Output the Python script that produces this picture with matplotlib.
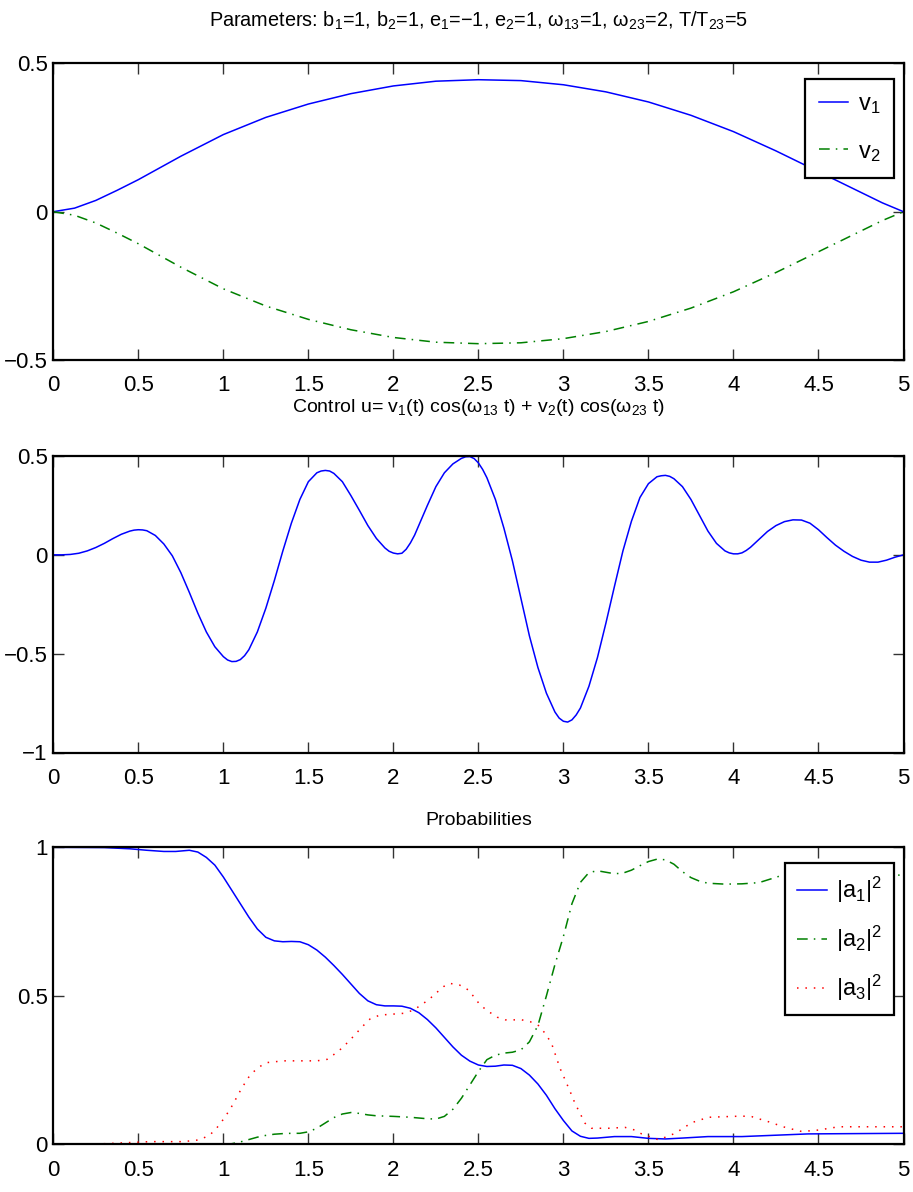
import matplotlib
matplotlib.use("Agg")
import matplotlib.pyplot as plt
from matplotlib import font_manager

# ---------------- data ----------------
t_v = [0, 0.125, 0.25, 0.375, 0.5, 0.75, 1.0, 1.25, 1.5, 1.75, 2.0, 2.25, 2.5, 2.75,
       3.0, 3.25, 3.5, 3.75, 4.0, 4.25, 4.5, 4.75, 4.875, 5.0]
v1 = [0, 0.012, 0.038, 0.072, 0.108, 0.187, 0.26, 0.318, 0.363, 0.398, 0.424, 0.44, 0.445,
      0.442, 0.428, 0.404, 0.37, 0.325, 0.27, 0.205, 0.135, 0.065, 0.03, 0.0]
v2 = [0, -0.012, -0.038, -0.072, -0.108, -0.187, -0.26, -0.318, -0.363, -0.398, -0.424,
      -0.44, -0.445, -0.442, -0.428, -0.404, -0.37, -0.325, -0.27, -0.205, -0.135, -0.065,
      -0.03, 0.0]

t_u = [0.0, 0.05, 0.1, 0.15, 0.2, 0.25, 0.3, 0.35, 0.4, 0.45, 0.475, 0.5, 0.525, 0.55,
       0.6, 0.65, 0.7, 0.75, 0.8, 0.85, 0.9, 0.95, 1.0, 1.025, 1.05, 1.075, 1.1, 1.125,
       1.15, 1.2, 1.25, 1.3, 1.35, 1.4, 1.45, 1.5, 1.55, 1.575, 1.6, 1.625, 1.65, 1.7,
       1.75, 1.8, 1.85, 1.9, 1.95, 1.975, 2.0, 2.025, 2.05, 2.075, 2.1, 2.125, 2.15, 2.2,
       2.25, 2.3, 2.35, 2.4, 2.425, 2.45, 2.475, 2.5, 2.525, 2.55, 2.6, 2.65, 2.7, 2.75,
       2.8, 2.85, 2.9, 2.95, 2.975, 3.0, 3.025, 3.05, 3.075, 3.1, 3.15, 3.2, 3.25, 3.3,
       3.35, 3.4, 3.45, 3.5, 3.55, 3.575, 3.6, 3.625, 3.65, 3.7, 3.75, 3.8, 3.85, 3.9,
       3.95, 3.975, 4.0, 4.025, 4.05, 4.075, 4.1, 4.15, 4.2, 4.25, 4.3, 4.35, 4.4, 4.45,
       4.5, 4.55, 4.6, 4.65, 4.7, 4.75, 4.8, 4.85, 4.9, 4.95, 5.0]
u = [0.0, 0.0, 0.002, 0.008, 0.02, 0.037, 0.058, 0.082, 0.104, 0.12, 0.125, 0.127, 0.126,
     0.122, 0.098, 0.055, -0.005, -0.09, -0.19, -0.295, -0.39, -0.465, -0.515, -0.532,
     -0.54, -0.539, -0.53, -0.51, -0.48, -0.39, -0.27, -0.13, 0.02, 0.16, 0.28, 0.37,
     0.415, 0.424, 0.427, 0.424, 0.412, 0.37, 0.3, 0.225, 0.148, 0.083, 0.035, 0.018,
     0.009, 0.005, 0.008, 0.028, 0.06, 0.1, 0.15, 0.25, 0.345, 0.415, 0.46, 0.488, 0.496,
     0.497, 0.487, 0.465, 0.432, 0.39, 0.28, 0.135, -0.03, -0.22, -0.41, -0.57, -0.70,
     -0.795, -0.826, -0.842, -0.846, -0.835, -0.81, -0.775, -0.665, -0.52, -0.345, -0.16,
     0.02, 0.17, 0.29, 0.36, 0.395, 0.4, 0.402, 0.397, 0.385, 0.345, 0.28, 0.2, 0.12,
     0.058, 0.02, 0.01, 0.005, 0.005, 0.01, 0.022, 0.038, 0.078, 0.118, 0.148, 0.168,
     0.177, 0.176, 0.16, 0.127, 0.087, 0.049, 0.018, -0.008, -0.027, -0.037, -0.037,
     -0.027, -0.012, 0.0]

t_a1 = [0, 0.3, 0.45, 0.55, 0.65, 0.72, 0.8, 0.85, 0.9, 0.95, 1.0, 1.05, 1.1, 1.15, 1.2,
        1.25, 1.3, 1.35, 1.4, 1.45, 1.5, 1.55, 1.6, 1.65, 1.7, 1.75, 1.8, 1.85, 1.9,
        1.95, 2.0, 2.05, 2.1, 2.15, 2.2, 2.25, 2.3, 2.35, 2.4, 2.45, 2.5, 2.55, 2.6,
        2.65, 2.7, 2.75, 2.8, 2.85, 2.9, 2.95, 3.0, 3.05, 3.1, 3.15, 3.2, 3.3, 3.4,
        3.5, 3.6, 3.7, 3.85, 4.05, 4.44, 5.0]
a1 = [1.0, 0.999, 0.995, 0.99, 0.986, 0.986, 0.99, 0.984, 0.966, 0.94, 0.9, 0.855, 0.81,
      0.765, 0.725, 0.697, 0.685, 0.682, 0.683, 0.682, 0.672, 0.654, 0.63, 0.602, 0.572,
      0.54, 0.508, 0.483, 0.47, 0.466, 0.466, 0.465, 0.458, 0.443, 0.42, 0.392, 0.36,
      0.328, 0.3, 0.28, 0.267, 0.262, 0.263, 0.267, 0.266, 0.255, 0.233, 0.203, 0.165,
      0.12, 0.08, 0.045, 0.027, 0.02, 0.021, 0.026, 0.026, 0.02, 0.018, 0.021, 0.026,
      0.026, 0.035, 0.037]

t_a2 = [0, 1.0, 1.05, 1.1, 1.15, 1.2, 1.25, 1.3, 1.35, 1.4, 1.45, 1.5, 1.55, 1.6, 1.65,
        1.7, 1.75, 1.8, 1.85, 1.9, 2.0, 2.1, 2.2, 2.25, 2.3, 2.35, 2.4, 2.45, 2.5, 2.55,
        2.6, 2.65, 2.7, 2.75, 2.8, 2.85, 2.9, 2.95, 3.0, 3.05, 3.1, 3.15, 3.2, 3.25, 3.3,
        3.35, 3.4, 3.45, 3.5, 3.55, 3.6, 3.65, 3.7, 3.75, 3.8, 3.85, 3.95, 4.05, 4.15,
        4.25, 4.35, 4.45, 4.6, 4.8, 5.0]
a2 = [0, 0.0, 0.002, 0.008, 0.016, 0.024, 0.03, 0.034, 0.036, 0.037, 0.037, 0.042, 0.054,
      0.072, 0.09, 0.102, 0.107, 0.104, 0.099, 0.096, 0.094, 0.091, 0.086, 0.085, 0.094,
      0.118, 0.155, 0.2, 0.245, 0.285, 0.3, 0.307, 0.31, 0.318, 0.345, 0.4, 0.5, 0.605,
      0.7, 0.81, 0.882, 0.915, 0.921, 0.916, 0.911, 0.913, 0.923, 0.938, 0.952, 0.96,
      0.958, 0.943, 0.918, 0.898, 0.886, 0.879, 0.876, 0.877, 0.881, 0.899, 0.918, 0.928,
      0.93, 0.915, 0.905]

t_a3 = [0, 0.3, 0.57, 0.765, 0.86, 0.92, 0.96, 1.0, 1.04, 1.07, 1.108, 1.157, 1.206,
        1.255, 1.353, 1.55, 1.61, 1.647, 1.696, 1.745, 1.824, 1.863, 1.92, 2.06, 2.12,
        2.157, 2.206, 2.255, 2.295, 2.33, 2.39, 2.44, 2.48, 2.51, 2.56, 2.61, 2.657,
        2.755, 2.804, 2.853, 2.892, 2.93, 2.98, 3.01, 3.04, 3.068, 3.098, 3.127, 3.166,
        3.264, 3.362, 3.42, 3.46, 3.56, 3.657, 3.755, 3.853, 4.05, 4.108, 4.206, 4.304,
        4.402, 4.5, 4.618, 5.0]
a3 = [0, 0.002, 0.009, 0.009, 0.015, 0.031, 0.054, 0.084, 0.118, 0.149, 0.189, 0.233, 0.259,
      0.275, 0.281, 0.281, 0.286, 0.301, 0.323, 0.351, 0.4, 0.422, 0.435, 0.441, 0.452,
      0.467, 0.486, 0.511, 0.531, 0.542, 0.536, 0.52, 0.492, 0.469, 0.447, 0.428, 0.419,
      0.419, 0.413, 0.4, 0.374, 0.34, 0.256, 0.217, 0.177, 0.138, 0.104, 0.071, 0.054,
      0.054, 0.057, 0.048, 0.035, 0.015, 0.037, 0.073, 0.091, 0.095, 0.093, 0.076, 0.057,
      0.043, 0.048, 0.059, 0.059]

x_ticks = [0, 0.5, 1, 1.5, 2, 2.5, 3, 3.5, 4, 4.5, 5]
x_tick_labels = ['0', '0.5', '1', '1.5', '2', '2.5', '3', '3.5', '4', '4.5', '5']
y1_ticks, y1_labels = [-0.5, 0, 0.5], ['\u22120.5', '0', '0.5']
y2_ticks, y2_labels = [-1, -0.5, 0, 0.5], ['\u22121', '\u22120.5', '0', '0.5']
y3_ticks, y3_labels = [0, 0.5, 1], ['0', '0.5', '1']

title1 = ('Parameters: b$_1$=1, b$_2$=1, e$_1$=\u22121, e$_2$=1, \u03c9$_{13}$=1, '
          '\u03c9$_{23}$=2, T/T$_{23}$=5')
title2 = 'Control u= v$_1$(t) cos(\u03c9$_{13}$ t) + v$_2$(t) cos(\u03c9$_{23}$ t)'
title3 = 'Probabilities'

# ---------------- style ----------------
names = {f.name for f in font_manager.fontManager.ttflist}
FONT = 'Liberation Sans Narrow' if 'Liberation Sans Narrow' in names else 'Liberation Sans'
NARROW = FONT == 'Liberation Sans Narrow'
plt.rcParams['font.family'] = [FONT, 'DejaVu Sans']
plt.rcParams['mathtext.fontset'] = 'custom'
plt.rcParams['mathtext.rm'] = FONT
plt.rcParams['mathtext.it'] = FONT
plt.rcParams['mathtext.bf'] = FONT
plt.rcParams['axes.unicode_minus'] = True

BLUE = (0, 0, 1)
GREEN = (0, 0.5, 0)
RED = (1, 0, 0)
TICK_FS = 20 if NARROW else 16
TITLE_FS = 17 if NARROW else 14
LEG_FS = 20 if NARROW else 17

fig = plt.figure(figsize=(9.13, 11.92), dpi=100)

left = 53.3 / 913
width = (903.5 - 53.3) / 913
def axbox(top_px, bot_px):
    return [left, 1 - bot_px / 1192, width, (bot_px - top_px) / 1192]

ax1 = fig.add_axes(axbox(63.4, 360.0))
ax2 = fig.add_axes(axbox(456.0, 752.5))
ax3 = fig.add_axes(axbox(847.3, 1144.3))

dashdot = (0, (7, 4, 1, 4))
dotted = (0, (1, 4.5))

ax1.plot(t_v, v1, color=BLUE, lw=1.1, label='v$_1$')
ax1.plot(t_v, v2, color=GREEN, lw=1.1, linestyle=dashdot, label='v$_2$')
ax2.plot(t_u, u, color=BLUE, lw=1.1)
ax3.plot(t_a1, a1, color=BLUE, lw=1.1, label='|a$_1$|$^2$')
ax3.plot(t_a2, a2, color=GREEN, lw=1.1, linestyle=dashdot, label='|a$_2$|$^2$')
ax3.plot(t_a3, a3, color=RED, lw=1.1, linestyle=dotted, label='|a$_3$|$^2$')

for ax, (yt, yl, ylim) in zip([ax1, ax2, ax3],
                              [(y1_ticks, y1_labels, (-0.5, 0.5)),
                               (y2_ticks, y2_labels, (-1, 0.5)),
                               (y3_ticks, y3_labels, (0, 1))]):
    ax.set_xlim(0, 5)
    ax.set_ylim(*ylim)
    ax.set_xticks(x_ticks)
    ax.set_xticklabels(x_tick_labels)
    ax.set_yticks(yt)
    ax.set_yticklabels(yl)
    ax.tick_params(direction='in', top=True, right=True, length=8, width=1,
                   color='#333333', labelsize=TICK_FS, pad=4)
    ax.tick_params(axis='x', pad=11)
    for s in ax.spines.values():
        s.set_linewidth(1.6)
        s.set_color('black')

ax1.text(0.5, 1.125, title1, transform=ax1.transAxes, ha='center', va='baseline',
         fontsize=TITLE_FS * 1.02)
ax2.text(0.5, 1.148, title2, transform=ax2.transAxes, ha='center', va='baseline',
         fontsize=TITLE_FS)
ax3.text(0.5, 1.075, title3, transform=ax3.transAxes, ha='center', va='baseline',
         fontsize=TITLE_FS)

def leg(ax, anchor, spacing, pad):
    lg = ax.legend(loc='upper right', bbox_to_anchor=anchor, fontsize=LEG_FS,
                   frameon=True, fancybox=False, framealpha=1, edgecolor='black',
                   handlelength=1.25, handletextpad=0.4, labelspacing=spacing,
                   borderpad=pad, borderaxespad=0)
    lg.get_frame().set_linewidth(1.6)
    return lg

leg(ax1, (1 - 9 / 850, 1 - 15.5 / 297), 1.05, 0.6)
leg(ax3, (1 - 9.5 / 850, 1 - 16 / 297), 0.8, 0.5)

fig.savefig('out.png', dpi=100)
